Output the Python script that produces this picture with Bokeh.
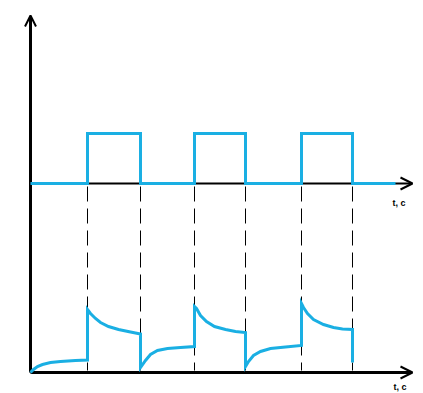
from bokeh.plotting import figure
from bokeh.models import Range1d, Arrow, OpenHead
from bokeh.core.properties import value
from bokeh.embed import file_html
from bokeh.resources import INLINE

# switching instants of the rectangular input signal (time units)
edges = [5.7, 11.0, 16.4, 21.5, 27.1, 32.2]
t_start, t_end = 0.0, 36.5
# input signal level per interval (0 = low, 1 = high)
u_levels = [0, 1, 0, 1, 0, 1, 0]

resp_t = [0.0, 0.3, 0.7, 1.2, 2.0, 3.0, 4.5, 5.7,
          5.7, 6.0, 6.5, 7.0, 7.8, 8.8, 10.0, 11.0,
          11.0, 11.5, 12.0, 12.7, 13.7, 15.0, 16.4,
          16.4, 16.6, 17.0, 17.6, 18.4, 19.5, 20.5, 21.5,
          21.5, 21.8, 22.3, 23.0, 24.0, 25.5, 27.1,
          27.1, 27.3, 27.7, 28.3, 29.3, 30.3, 31.2, 32.2,
          32.2]
resp_y = [0.0, 0.3, 0.6, 0.8, 1.0, 1.1, 1.2, 1.25,
          6.3, 5.9, 5.4, 5.0, 4.6, 4.3, 4.05, 3.85,
          0.5, 1.2, 1.8, 2.2, 2.4, 2.5, 2.6,
          6.6, 6.4, 5.7, 5.1, 4.6, 4.3, 4.1, 4.0,
          0.6, 1.1, 1.7, 2.1, 2.4, 2.55, 2.7,
          6.9, 6.5, 5.9, 5.3, 4.8, 4.5, 4.35, 4.3,
          1.0]

axis_label = "t, c"

# layout constants
BASE_U = 18.9    # upper time axis level
AMP_U = 5.0      # drawn height of the input pulse
BLUE = "#1aafe3"

p = figure(width=423, height=393, output_backend="svg", toolbar_location=None,
           x_range=Range1d(-3.0, 39.3), y_range=Range1d(-2.1, 37.2),
           min_border=0, outline_line_color=None)
p.axis.visible = False
p.grid.visible = False
p.background_fill_color = "white"

# dashed guide lines at switching instants
p.segment(x0=edges, y0=[BASE_U - 0.3] * len(edges), x1=edges, y1=[0.2] * len(edges),
          line_color="black", line_width=1, line_dash="15 7")

# axes
p.line([0, 0], [0, 35.0], line_color="black", line_width=3)
p.add_layout(Arrow(end=OpenHead(size=11, line_width=2, line_color="black"),
                   x_start=0, y_start=34.0, x_end=0, y_end=35.7,
                   line_color="black", line_width=3, level="underlay"))
p.add_layout(Arrow(end=OpenHead(size=12, line_width=2, line_color="black"),
                   x_start=0, y_start=BASE_U, x_end=38.2, y_end=BASE_U,
                   line_color="black", line_width=2, level="underlay"))
p.add_layout(Arrow(end=OpenHead(size=12, line_width=2, line_color="black"),
                   x_start=0, y_start=0, x_end=38.2, y_end=0,
                   line_color="black", line_width=3, level="underlay"))

# input rectangular signal
bounds = [t_start] + edges + [t_end]
wx, wy = [], []
for i, lv in enumerate(u_levels):
    wx += [bounds[i], bounds[i + 1]]
    wy += [BASE_U + AMP_U * lv] * 2
p.line(wx, wy, line_color=BLUE, line_width=3, line_join="miter")

# response
p.line(resp_t, resp_y, line_color=BLUE, line_width=3, line_join="miter")

# labels
p.text(x=[36.2, 36.3], y=[17.0, -1.45], text=[axis_label, axis_label],
       text_font=value("Liberation Sans"), text_font_size="9px",
       text_font_style="bold", text_color="black",
       text_baseline="alphabetic", text_align="left")

open("out.html", "w").write(file_html(p, INLINE))
